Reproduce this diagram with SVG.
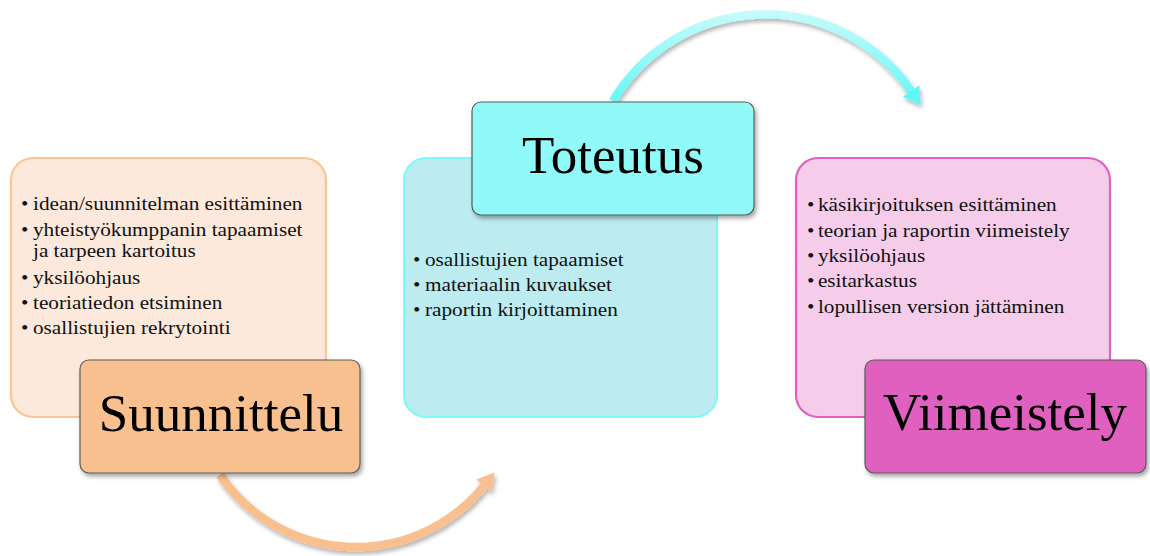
<svg xmlns="http://www.w3.org/2000/svg" width="1150" height="556" viewBox="0 0 1150 556">
<style>
.bul{font-family:"Liberation Serif","Times New Roman",serif;font-size:19.5px;fill:#111}
.title{font-family:"Liberation Serif","Times New Roman",serif;font-size:53px;fill:#000;text-anchor:middle}
.tbox{stroke:#5a5a5a;stroke-width:1.2}
</style>
<defs>
<filter id="sh" x="-10%" y="-10%" width="130%" height="140%">
<feDropShadow dx="2" dy="3" stdDeviation="2.2" flood-color="#000" flood-opacity="0.35"/>
</filter>
<filter id="ash" x="-10%" y="-10%" width="130%" height="140%">
<feDropShadow dx="1.5" dy="3" stdDeviation="2" flood-color="#000" flood-opacity="0.3"/>
</filter>
<linearGradient id="cg" gradientUnits="userSpaceOnUse" x1="0" y1="10" x2="0" y2="110">
<stop offset="0" stop-color="#c8fbfb"/>
<stop offset="1" stop-color="#5ef6f6"/>
</linearGradient>
<marker id="ao" markerUnits="userSpaceOnUse" markerWidth="24" markerHeight="24" viewBox="0 -12 20 24" refX="0" refY="0" orient="auto">
<path d="M0,-10 L17,0 L0,10 z" fill="#f9c08f"/>
</marker>
<marker id="ac" markerUnits="userSpaceOnUse" markerWidth="24" markerHeight="24" viewBox="0 -12 20 24" refX="0" refY="0" orient="auto">
<path d="M0,-10 L17,0 L0,10 z" fill="#5ef6f6"/>
</marker>
</defs>
<rect width="1150" height="556" fill="#fff"/>

<g id="connectors">
<path d="M613,101 A177,177 0 0 1 911,91" fill="none" stroke="url(#cg)" stroke-width="8.5" marker-end="url(#ac)" filter="url(#ash)"/>
<path d="M220,475 A164.4,164.4 0 0 0 484,485.8" fill="none" stroke="#f9c08f" stroke-width="8.5" marker-end="url(#ao)" filter="url(#ash)"/>
</g>

<g id="suunnittelu-content">
<rect x="11" y="158" width="315" height="259" rx="22" fill="#fde9dc" stroke="#f9c595" stroke-width="2.2"/>
<g transform="translate(21,0) scale(1.09,1) translate(-21,0)" class="bul">
<text x="21" y="210">•</text><text x="32" y="210">idean/suunnitelman esittäminen</text>
<text x="21" y="236">•</text><text x="32" y="236">yhteistyökumppanin tapaamiset</text>
<text x="32" y="257">ja tarpeen kartoitus</text>
<text x="21" y="284">•</text><text x="32" y="284">yksilöohjaus</text>
<text x="21" y="309">•</text><text x="32" y="309">teoriatiedon etsiminen</text>
<text x="21" y="334">•</text><text x="32" y="334">osallistujien rekrytointi</text>
</g>
</g>
<g id="suunnittelu">
<rect class="tbox" x="80" y="360" width="280" height="113" rx="9" fill="#f9c08f" filter="url(#sh)"/>
<text class="title" x="221" y="431">Suunnittelu</text>
</g>

<g id="toteutus-content">
<rect x="404" y="158" width="313" height="259" rx="22" fill="#bdecf0" stroke="#80f8f8" stroke-width="2.2"/>
<g transform="translate(413,0) scale(1.09,1) translate(-413,0)" class="bul">
<text x="413" y="266">•</text><text x="424" y="266">osallistujien tapaamiset</text>
<text x="413" y="291">•</text><text x="424" y="291">materiaalin kuvaukset</text>
<text x="413" y="316">•</text><text x="424" y="316">raportin kirjoittaminen</text>
</g>
</g>
<g id="toteutus">
<rect class="tbox" x="472" y="102" width="282" height="113" rx="9" fill="#90faf8" filter="url(#sh)"/>
<text class="title" x="613" y="173">Toteutus</text>
</g>

<g id="viimeistely-content">
<rect x="796" y="158" width="314" height="259" rx="22" fill="#f5cdeb" stroke="#e060c0" stroke-width="2.2"/>
<g transform="translate(807,0) scale(1.09,1) translate(-807,0)" class="bul">
<text x="807" y="211">•</text><text x="817" y="211">käsikirjoituksen esittäminen</text>
<text x="807" y="237">•</text><text x="817" y="237">teorian ja raportin viimeistely</text>
<text x="807" y="262">•</text><text x="817" y="262">yksilöohjaus</text>
<text x="807" y="287">•</text><text x="817" y="287">esitarkastus</text>
<text x="807" y="313">•</text><text x="817" y="313">lopullisen version jättäminen</text>
</g>
</g>
<g id="viimeistely">
<rect class="tbox" x="865" y="360" width="281" height="113" rx="9" fill="#e060c0" filter="url(#sh)"/>
<text class="title" x="1005" y="430">Viimeistely</text>
</g>
</svg>
